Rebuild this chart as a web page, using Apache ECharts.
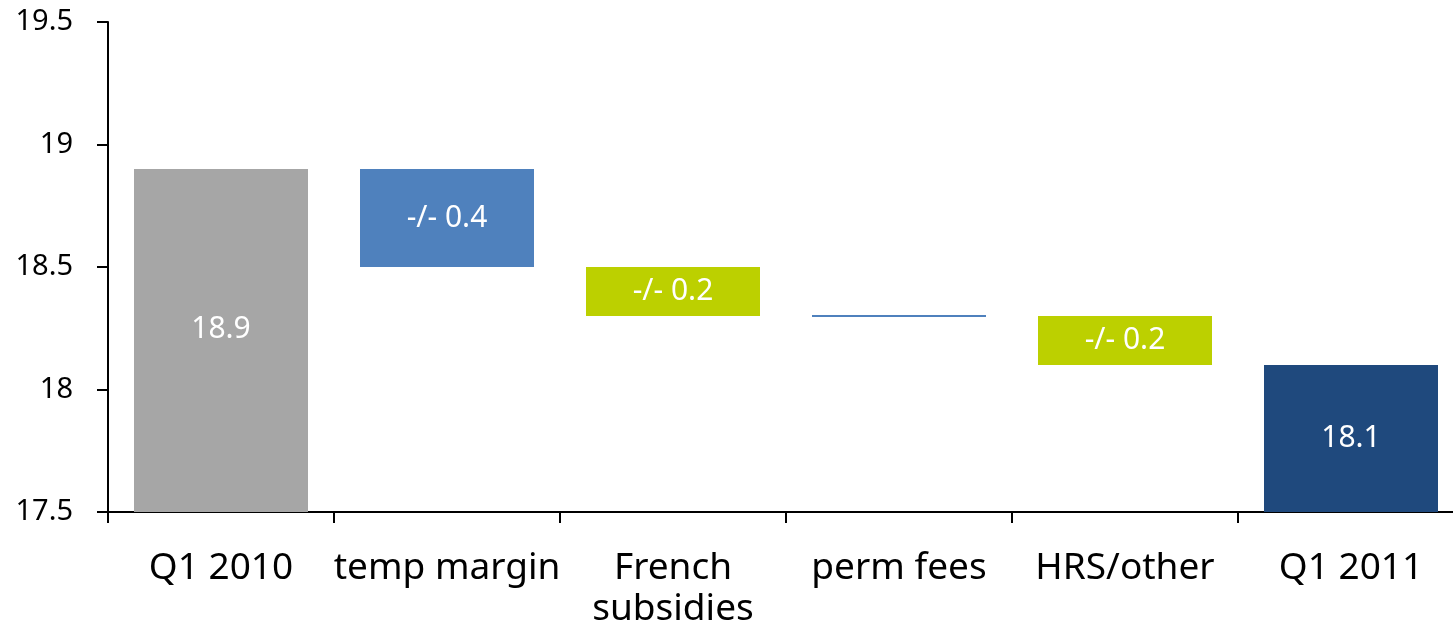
<!DOCTYPE html>
<html>
	<head>
		<meta charset="utf-8" />
		<title></title>
		<script src="https://cdn.jsdelivr.net/npm/echarts@6/dist/echarts.min.js" type="text/javascript" charset="utf-8"></script>
		<style type="text/css">
			html, body { margin: 0; padding: 0; background: #fff; }
			#main { width: 1453px; height: 629px; }
		</style>
	</head>
	<body>
		<div id="main"></div>
		<script type="text/javascript">
			// 数据
			var categories = ['Q1 2010', 'temp margin', 'French\nsubsidies', 'perm fees', 'HRS/other', 'Q1 2011'];
			var baseValues = [0, 18.5, 18.3, 18.3, 18.1, 0];
			var barValues = [18.9, 0.4, 0.2, 0, 0.2, 18.1];
			var barLabels = ['18.9', '-/- 0.4', '-/- 0.2', '', '-/- 0.2', '18.1'];
			var yTicks = [17.5, 18, 18.5, 19, 19.5];

			var palette = ['#a6a6a6', '#4f81bd', '#bcd000', '#4f81bd', '#bcd000', '#1f497d'];
			var font = '"Noto Sans", "Open Sans", sans-serif';

			var myChart = echarts.init(document.getElementById('main'));
			var option = {
				animation: false,
				// 最后一个类目超出画布右边
				grid: { left: 108, top: 22, bottom: 117, width: 1356, containLabel: false, outerBoundsMode: 'none' },
				xAxis: {
					type: 'category',
					data: categories,
					axisLine: { lineStyle: { color: '#000', width: 2 } },
					axisTick: { show: true, length: 11, lineStyle: { color: '#000', width: 2 } },
					axisLabel: {
						color: '#000', fontFamily: font, fontSize: 37, margin: 36,
						lineHeight: 41, interval: 0
					}
				},
				yAxis: {
					type: 'value',
					min: yTicks[0],
					max: yTicks[yTicks.length - 1],
					interval: 0.5,
					splitLine: { show: false },
					axisLine: { show: true, lineStyle: { color: '#000', width: 2 } },
					axisTick: { show: true, length: 11, lineStyle: { color: '#000', width: 2 } },
					axisLabel: { color: '#000', fontFamily: font, fontSize: 29, margin: 35 }
				},
				series: [
					{
						type: 'bar',
						stack: 'wf',
						barWidth: 174,
						data: baseValues,
						itemStyle: { color: 'rgba(0,0,0,0)' },
						silent: true
					},
					{
						type: 'bar',
						stack: 'wf',
						barWidth: 174,
						data: barValues.map(function(v, i) {
							var item = { value: v, itemStyle: { color: palette[i] } };
							if (v === 0) {
								item.itemStyle.borderColor = palette[i];
								item.itemStyle.borderWidth = 2;
							}
							if (i === 0) {
								item.label = { offset: [0, -11] };
							}
							return item;
						}),
						label: {
							show: true,
							position: 'inside',
							color: '#fff',
							fontFamily: font,
							fontSize: 30,
							formatter: function(p) { return barLabels[p.dataIndex]; }
						}
					}
				]
			};
			myChart.setOption(option);
		</script>
	</body>
</html>
